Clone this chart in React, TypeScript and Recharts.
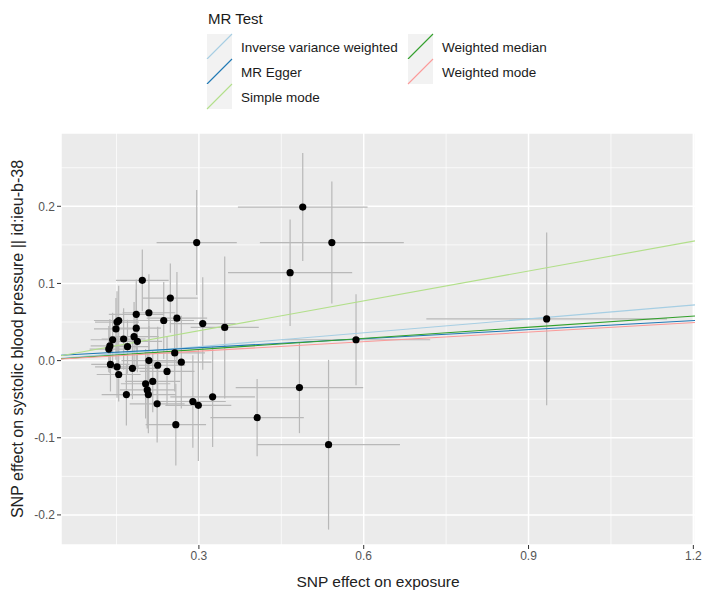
import React from "react"
import {
    CartesianGrid,
    ErrorBar,
    Legend,
    ReferenceLine,
    Scatter,
    ScatterChart,
    XAxis,
    YAxis,
} from "recharts"

// SNP effects on exposure / outcome with their standard errors
const exposure = [
    0.296, 0.197, 0.248, 0.209, 0.186, 0.236, 0.26, 0.307, 0.347, 0.154,
    0.151, 0.149, 0.186, 0.143, 0.163, 0.182, 0.188, 0.138, 0.136, 0.17,
    0.256, 0.139, 0.151, 0.179, 0.209, 0.225, 0.268, 0.154, 0.242, 0.216,
    0.203, 0.206, 0.208, 0.168, 0.224, 0.289, 0.299, 0.325, 0.258, 0.406,
    0.489, 0.542, 0.466, 0.586, 0.483, 0.536, 0.933,
]
const outcome = [
    0.153, 0.104, 0.081, 0.062, 0.06, 0.052, 0.055, 0.048, 0.043, 0.052,
    0.05, 0.041, 0.042, 0.027, 0.028, 0.031, 0.025, 0.019, 0.015, 0.018,
    0.01, -0.005, -0.008, -0.01, 0.0, -0.006, -0.002, -0.018, -0.014, -0.027,
    -0.03, -0.038, -0.044, -0.044, -0.056, -0.053, -0.058, -0.047, -0.083, -0.074,
    0.199, 0.153, 0.114, 0.027, -0.035, -0.109, 0.054,
]
const seExposure = [
    0.073, 0.048, 0.05, 0.048, 0.05, 0.055, 0.055, 0.06, 0.062, 0.045,
    0.04, 0.04, 0.045, 0.04, 0.04, 0.045, 0.045, 0.035, 0.035, 0.04,
    0.055, 0.035, 0.04, 0.045, 0.05, 0.05, 0.055, 0.04, 0.05, 0.05,
    0.045, 0.05, 0.05, 0.045, 0.05, 0.06, 0.06, 0.077, 0.055, 0.085,
    0.118, 0.131, 0.113, 0.135, 0.116, 0.13, 0.219,
]
const seOutcome = [
    0.068, 0.04, 0.045, 0.05, 0.045, 0.05, 0.06, 0.06, 0.092, 0.045,
    0.04, 0.04, 0.05, 0.035, 0.04, 0.045, 0.04, 0.035, 0.03, 0.035,
    0.05, 0.035, 0.04, 0.04, 0.045, 0.05, 0.06, 0.035, 0.045, 0.04,
    0.045, 0.05, 0.05, 0.04, 0.05, 0.06, 0.072, 0.065, 0.053, 0.05,
    0.07, 0.079, 0.069, 0.059, 0.059, 0.11, 0.112,
]

const methods = [
    "Inverse variance weighted",
    "MR Egger",
    "Simple mode",
    "Weighted median",
    "Weighted mode",
]
const methodColors = ["#a6cee3", "#1f78b4", "#b2df8a", "#33a02c", "#fb9a99"]
const intercepts = [0, 0.005, 0, 0, 0]
const slopes = [0.06, 0.039, 0.129, 0.048, 0.041]

const X_DOMAIN: [number, number] = [0.049, 1.203]
const Y_DOMAIN: [number, number] = [-0.239, 0.295]
const xTicks = [0.3, 0.6, 0.9, 1.2]
const yTicks = [-0.2, -0.1, 0, 0.1, 0.2]
const xMinor = [0.15, 0.45, 0.75, 1.05]
const yMinor = [-0.15, -0.05, 0.05, 0.15, 0.25]

const FONT = "'Liberation Sans', Arial, sans-serif"
const PANEL = "#ebebeb"
const ERR = "#b8b8b8"

const points = exposure.map((x, i) => ({
    x,
    y: outcome[i],
    xErr: seExposure[i],
    yErr: seOutcome[i],
}))

// legend slots: [key left, row]
const legendSlots = [
    [207, 0],
    [207, 1],
    [207, 2],
    [408, 0],
    [408, 1],
]

function MrLegend() {
    return (
        <svg width={708} height={112} style={{ display: "block" }}>
            <text x={208} y={24} fontSize={15} fill="#1a1a1a" fontFamily={FONT}>
                MR Test
            </text>
            {methods.map((m, i) => {
                const [kx, row] = legendSlots[i]
                const ky = 34 + row * 25
                return (
                    <g key={m}>
                        <rect x={kx} y={ky} width={25} height={25} fill="#f2f2f2" />
                        <line
                            x1={kx}
                            y1={ky + 25}
                            x2={kx + 25}
                            y2={ky}
                            stroke={methodColors[i]}
                            strokeWidth={1.1}
                        />
                        <text
                            x={kx + 34}
                            y={ky + 18}
                            fontSize={13.5}
                            fill="#1a1a1a"
                            fontFamily={FONT}
                        >
                            {m}
                        </text>
                    </g>
                )
            })}
        </svg>
    )
}

export default function App() {
    return (
        <div style={{ width: 708, height: 601, background: "#fff" }}>
            <style>{`body{margin:0}`}</style>
            <ScatterChart
                width={708}
                height={601}
                margin={{ top: 133, right: 13, bottom: 0, left: 0 }}
            >
                <CartesianGrid
                    fill={PANEL}
                    stroke="#ffffff"
                    strokeWidth={0.7}
                    horizontalValues={yMinor}
                    verticalValues={xMinor}
                />
                <CartesianGrid stroke="#ffffff" strokeWidth={1.5} />
                <XAxis
                    type="number"
                    dataKey="x"
                    domain={X_DOMAIN}
                    allowDataOverflow
                    ticks={xTicks}
                    tickFormatter={(v: number) => v.toFixed(1)}
                    height={56}
                    axisLine={false}
                    tickSize={4}
                    tickLine={{ stroke: "#333333" }}
                    tick={{ fill: "#555555", fontSize: 12, fontFamily: FONT }}
                    label={{
                        value: "SNP effect on exposure",
                        position: "insideBottom",
                        offset: 14,
                        style: { fill: "#222222", fontSize: 15.5, fontFamily: FONT },
                    }}
                />
                <YAxis
                    type="number"
                    dataKey="y"
                    domain={Y_DOMAIN}
                    allowDataOverflow
                    ticks={yTicks}
                    tickFormatter={(v: number) => v.toFixed(1)}
                    width={61}
                    axisLine={false}
                    tickSize={4}
                    tickLine={{ stroke: "#333333" }}
                    tick={{ fill: "#555555", fontSize: 12, fontFamily: FONT }}
                    label={{
                        value: "SNP effect on systolic blood pressure || id:ieu-b-38",
                        angle: -90,
                        position: "insideLeft",
                        offset: 17,
                        style: {
                            fill: "#222222",
                            fontSize: 16,
                            fontFamily: FONT,
                            textAnchor: "middle",
                        },
                    }}
                />
                <Legend
                    verticalAlign="middle"
                    align="center"
                    layout="horizontal"
                    wrapperStyle={{ top: 0, left: 0, width: 708, height: 112 }}
                    content={() => <MrLegend />}
                />
                <Scatter
                    data={points}
                    fill="#000000"
                    shape={(p: any) => <circle cx={p.cx} cy={p.cy} r={3.6} fill="#000" />}
                    isAnimationActive={false}
                >
                    <ErrorBar dataKey="xErr" direction="x" width={0} stroke={ERR} strokeWidth={1.2} />
                    <ErrorBar dataKey="yErr" direction="y" width={0} stroke={ERR} strokeWidth={1.2} />
                </Scatter>
                {methods.map((m, i) => (
                    <ReferenceLine
                        key={m}
                        segment={[
                            { x: X_DOMAIN[0], y: intercepts[i] + slopes[i] * X_DOMAIN[0] },
                            { x: X_DOMAIN[1], y: intercepts[i] + slopes[i] * X_DOMAIN[1] },
                        ]}
                        stroke={methodColors[i]}
                        strokeWidth={1.1}
                        ifOverflow="visible"
                    />
                ))}
            </ScatterChart>
        </div>
    )
}
